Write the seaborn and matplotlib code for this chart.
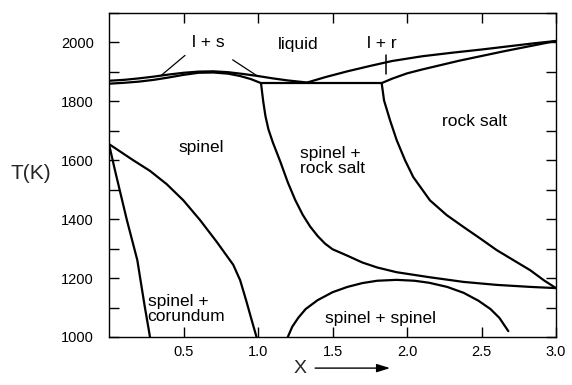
import matplotlib
matplotlib.use("Agg")
import matplotlib.pyplot as plt
import seaborn as sns
import pandas as pd

# Phase boundaries: composition X and temperature T(K)
liq_left_x = [0.0, 0.1, 0.2, 0.3, 0.4, 0.5, 0.6, 0.7, 0.8, 0.9, 1.0, 1.1, 1.2, 1.33]
liq_left_t = [1870, 1873, 1878, 1884, 1891, 1897, 1901, 1902, 1899, 1893, 1886, 1878, 1871, 1864]
sol_left_x = [0.0, 0.1, 0.2, 0.3, 0.4, 0.5, 0.6, 0.7, 0.8, 0.88, 0.95, 1.0, 1.02]
sol_left_t = [1860, 1863, 1867, 1873, 1881, 1890, 1897, 1898, 1894, 1886, 1876, 1866, 1862]
eut_x = [1.02, 1.83]
eut_t = [1862, 1862]
liq_right_x = [1.33, 1.45, 1.6, 1.75, 1.9, 2.1, 2.3, 2.5, 2.7, 2.85, 3.0]
liq_right_t = [1864, 1882, 1902, 1920, 1937, 1953, 1965, 1976, 1988, 1997, 2005]
sol_right_x = [1.83, 1.9, 2.0, 2.1, 2.2, 2.35, 2.5, 2.65, 2.8, 2.9, 3.0]
sol_right_t = [1862, 1877, 1895, 1908, 1920, 1938, 1954, 1970, 1985, 1995, 2005]

spinel_rs_x = [1.02, 1.035, 1.05, 1.07, 1.10, 1.15, 1.20, 1.25, 1.30, 1.35,
               1.40, 1.45, 1.50, 1.60, 1.70, 1.80, 1.93, 2.15, 2.38, 2.60,
               2.83, 3.0]
spinel_rs_t = [1862, 1800, 1750, 1705, 1660, 1595, 1525, 1465, 1415, 1375,
               1343, 1317, 1298, 1276, 1253, 1236, 1220, 1203, 1187, 1177,
               1170, 1166]
rocksalt_x = [1.83, 1.846, 1.886, 1.931, 1.987, 2.042, 2.154, 2.266, 2.378,
              2.490, 2.602, 2.714, 2.826, 2.92, 3.0]
rocksalt_t = [1862, 1803, 1736, 1668, 1600, 1543, 1464, 1414, 1374,
              1335, 1295, 1261, 1227, 1192, 1166]

spinel_cor_x = [0.0, 0.163, 0.275, 0.387, 0.499, 0.611, 0.723, 0.834, 0.88,
                0.92, 0.955, 0.99]
spinel_cor_t = [1655, 1600, 1564, 1519, 1464, 1397, 1323, 1245, 1193,
                1125, 1062, 1000]
corundum_x = [0.0, 0.04, 0.12, 0.19, 0.24, 0.265, 0.275]
corundum_t = [1655, 1566, 1397, 1261, 1103, 1030, 1000]

dome_x = [1.2, 1.23, 1.27, 1.32, 1.4, 1.5, 1.6, 1.7, 1.8, 1.93, 2.05, 2.15,
          2.27, 2.38, 2.48, 2.56, 2.62, 2.68]
dome_t = [1000, 1035, 1065, 1095, 1125, 1152, 1170, 1183, 1191, 1194, 1191, 1184,
          1170, 1150, 1123, 1095, 1065, 1020]

x_ticks = [0.5, 1.0, 1.5, 2.0, 2.5, 3.0]
x_ticklabels = ["0.5", "1.0", "1.5", "2.0", "2.5", "3.0"]
y_ticks = list(range(1000, 2101, 100))
y_ticklabels = [str(t) if t % 200 == 0 and t <= 2000 else "" for t in y_ticks]

sns.set_style("ticks")
plt.rcParams["font.family"] = ["Liberation Sans", "DejaVu Sans"]

fig = plt.figure(figsize=(5.72, 3.85), dpi=100)
ax = fig.add_axes([109 / 572, 48 / 385, 447 / 572, 324 / 385])

curves = {
    "liq_left": (liq_left_x, liq_left_t),
    "sol_left": (sol_left_x, sol_left_t),
    "eutectic": (eut_x, eut_t),
    "liq_right": (liq_right_x, liq_right_t),
    "sol_right": (sol_right_x, sol_right_t),
    "spinel_rs": (spinel_rs_x, spinel_rs_t),
    "rocksalt": (rocksalt_x, rocksalt_t),
    "spinel_cor": (spinel_cor_x, spinel_cor_t),
    "corundum": (corundum_x, corundum_t),
    "dome": (dome_x, dome_t),
}
for name, (xs, ts) in curves.items():
    df = pd.DataFrame({"X": xs, "T": ts})
    sns.lineplot(data=df, x="X", y="T", sort=False, estimator=None,
                 color="black", linewidth=1.6, ax=ax)

# leader lines for the two-phase lenses
ax.plot([0.51, 0.35], [1956, 1888], color="black", lw=0.9)
ax.plot([0.83, 0.99], [1941, 1888], color="black", lw=0.9)
ax.plot([1.86, 1.86], [1956, 1894], color="black", lw=1.1)

lab = dict(fontsize=12.5, color="black")
ax.text(0.665, 2000, "l + s", ha="center", va="center", **lab)
ax.text(1.27, 1993, "liquid", ha="center", va="center", **lab)
ax.text(1.83, 1997, "l + r", ha="center", va="center", **lab)
ax.text(0.62, 1644, "spinel", ha="center", va="center", **lab)
ax.text(1.28, 1597, "spinel +\nrock salt", ha="left", va="center",
        linespacing=1.05, **lab)
ax.text(2.45, 1732, "rock salt", ha="center", va="center", **lab)
ax.text(0.26, 1095, "spinel +\ncorundum", ha="left", va="center",
        linespacing=1.05, **lab)
ax.text(1.82, 1064, "spinel + spinel", ha="center", va="center", **lab)

ax.set_xlim(0, 3.0)
ax.set_ylim(1000, 2100)
ax.set_xticks(x_ticks)
ax.set_xticklabels(x_ticklabels)
ax.set_yticks(y_ticks)
ax.set_yticklabels(y_ticklabels)
ax.tick_params(axis="both", direction="in", length=7, width=1.0,
               top=True, right=True, labelsize=10.5, colors="black")
ax.tick_params(axis="y", pad=11)
ax.tick_params(axis="x", pad=6)
for s in ax.spines.values():
    s.set_linewidth(1.0)
    s.set_color("black")
ax.set_xlabel("")
ax.set_ylabel("")

ax.text(-0.174, 0.505, "T(K)", transform=ax.transAxes, ha="center",
        va="center", fontsize=15)
ax.text(0.428, -0.096, "X", transform=ax.transAxes, ha="center",
        va="center", fontsize=14)
ax.annotate("", xy=(0.635, -0.096), xytext=(0.455, -0.096),
            xycoords="axes fraction", textcoords="axes fraction",
            arrowprops=dict(arrowstyle="-|>,head_length=0.8,head_width=0.25",
                            color="black", lw=1.0), annotation_clip=False)

fig.savefig("out.png", dpi=100)
